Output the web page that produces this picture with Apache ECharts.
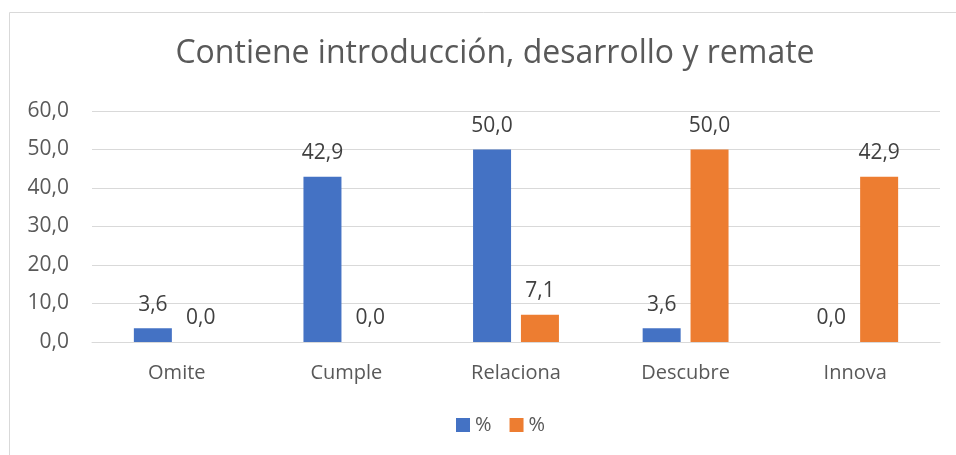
<!DOCTYPE html>
<html>
<head>
<meta charset="utf-8">
<script src="https://cdn.jsdelivr.net/npm/echarts@6/dist/echarts.min.js"></script>
<style>
  html, body { margin: 0; padding: 0; background: #fff; }
  #chart { width: 956px; height: 455px; }
</style>
</head>
<body>
<div id="chart"></div>
<script>
// datos
let categorias = ['Omite', 'Cumple', 'Relaciona', 'Descubre', 'Innova'];
let serieAzul = [3.6, 42.9, 50.0, 3.6, 0.0];
let serieNaranja = [0.0, 0.0, 7.1, 50.0, 42.9];
let nombres = ['%', '% ']; // mismo texto, distinto nombre para la leyenda

let fuente = '"Open Sans", Lato, sans-serif';
let fmt = function (v) {
    return Number(v).toFixed(1).replace('.', ',');
};

let chart = echarts.init(document.getElementById('chart'));
let option = {
    animation: false,
    textStyle: { fontFamily: fuente },
    title: {
        text: 'Contiene introducción, desarrollo y remate',
        left: 490,
        textAlign: 'center',
        top: 33,
        textStyle: { fontFamily: fuente, fontSize: 32, fontWeight: 'normal', color: '#595959' }
    },
    graphic: [{
        type: 'rect',
        shape: { x: 9.5, y: 12.5, width: 960, height: 460 },
        style: { fill: 'none', stroke: '#d9d9d9', lineWidth: 1 },
        silent: true
    }],
    legend: {
        data: nombres,
        top: 410,
        left: 451,
        itemWidth: 14,
        itemHeight: 14,
        itemGap: 18,
        icon: 'rect',
        formatter: function (n) { return n.trim(); },
        textStyle: { fontFamily: fuente, fontSize: 20, color: '#595959' }
    },
    grid: { left: 92, right: 16, top: 111, bottom: 113 },
    xAxis: {
        type: 'category',
        data: categorias,
        axisTick: { show: false },
        axisLine: { lineStyle: { color: '#d9d9d9', width: 1 } },
        axisLabel: { fontFamily: fuente, fontSize: 20, color: '#595959', margin: 21 }
    },
    yAxis: {
        type: 'value',
        min: 0,
        max: 60,
        interval: 10,
        axisLine: { show: false },
        axisTick: { show: false },
        splitLine: { lineStyle: { color: '#d9d9d9', width: 1 } },
        axisLabel: { fontFamily: fuente, fontSize: 21, color: '#595959', margin: 23, formatter: fmt }
    },
    series: [{
        name: nombres[0],
        type: 'bar',
        data: serieAzul,
        barWidth: 38,
        barGap: '26%',
        itemStyle: { color: '#4472c4' },
        label: { show: true, position: 'top', distance: 13, fontFamily: fuente, fontSize: 21, color: '#404040', formatter: function (p) { return fmt(p.value); } }
    }, {
        name: nombres[1],
        type: 'bar',
        data: serieNaranja,
        barWidth: 38,
        barGap: '26%',
        itemStyle: { color: '#ed7d31' },
        label: { show: true, position: 'top', distance: 13, fontFamily: fuente, fontSize: 21, color: '#404040', formatter: function (p) { return fmt(p.value); } }
    }]
};
chart.setOption(option, true);
window.addEventListener('resize', function () {
    chart.resize();
});
</script>
</body>
</html>
